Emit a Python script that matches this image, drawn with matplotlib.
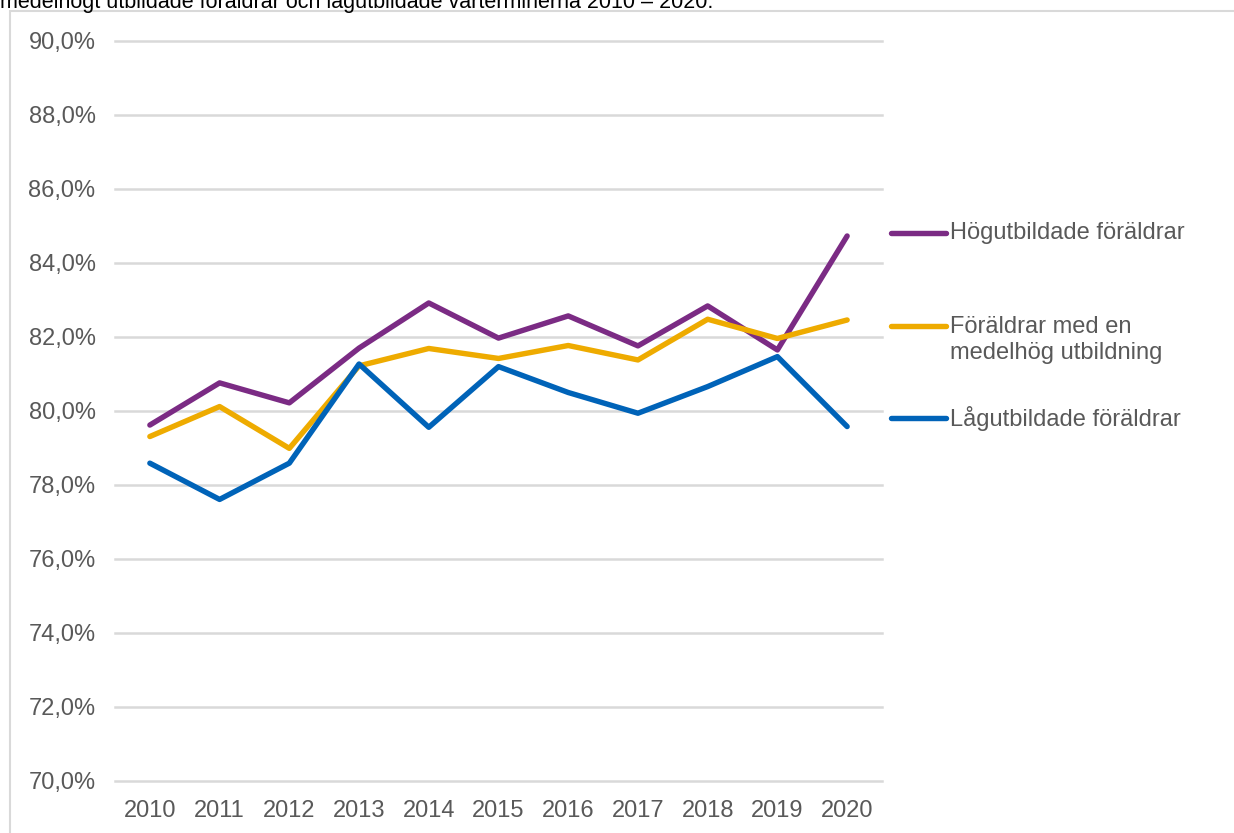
import matplotlib
matplotlib.use("Agg")
import matplotlib.pyplot as plt
from matplotlib.patches import Rectangle
from matplotlib.ticker import FuncFormatter

plt.rcParams["font.family"] = ["Liberation Sans", "DejaVu Sans"]

years = [2010, 2011, 2012, 2013, 2014, 2015, 2016, 2017, 2018, 2019, 2020]
hog = [79.62, 80.76, 80.22, 81.70, 82.92, 81.97, 82.57, 81.76, 82.84, 81.65, 84.73]
medel = [79.31, 80.12, 78.99, 81.22, 81.69, 81.42, 81.77, 81.38, 82.48, 81.96, 82.46]
lag = [78.59, 77.61, 78.59, 81.27, 79.56, 81.20, 80.50, 79.94, 80.66, 81.47, 79.58]

labels = ["Högutbildade föräldrar",
          "Föräldrar med en\nmedelhög utbildning",
          "Lågutbildade föräldrar"]
colors = ["#7b2b84", "#eeab00", "#0063b8"]
yticks = [70, 72, 74, 76, 78, 80, 82, 84, 86, 88, 90]
title = "medelhögt utbildade föräldrar och lågutbildade vårterminerna 2010 – 2020."

TEXT = "#595959"
GRID = "#d9d9d9"


def main():
    fig = plt.figure(figsize=(12.34, 8.33), dpi=100)
    W, H = 1234, 833
    ax = fig.add_axes([115 / W, 1 - 781 / H, 767 / W, 740 / H])
    plot_data(ax)
    set_properties(ax)
    add_legend(ax)

    # frame round the chart area and the cut-off caption above it
    fig.patches.append(Rectangle((10 / W, -0.1), 1.2, 1 - 11 / H + 0.1,
                                 transform=fig.transFigure, fill=False,
                                 edgecolor=GRID, linewidth=1.5))
    fig.text(0, 1 - 8 / H, title, fontsize=15.5, color="black",
             ha="left", va="baseline")
    fig.savefig("out.png", dpi=100)


def plot_data(ax):
    for vals, c in zip([hog, medel, lag], colors):
        ax.plot(years, vals, color=c, linewidth=3.9,
                solid_capstyle="round", solid_joinstyle="round", zorder=3)


def set_properties(ax):
    ax.set_xlim(2009.5, 2020.5)
    ax.set_ylim(70, 90)
    ax.set_yticks(yticks)
    ax.set_xticks(years)
    ax.yaxis.set_major_formatter(FuncFormatter(lambda v, p: f"{v:.1f}%".replace(".", ",")))
    ax.grid(axis="y", color=GRID, linewidth=1.8)
    for gl in ax.yaxis.get_gridlines():
        gl.set_clip_on(False)
    ax.set_axisbelow(True)
    for s in ax.spines.values():
        s.set_visible(False)
    ax.tick_params(length=0, labelsize=17, labelcolor=TEXT)
    ax.tick_params(axis="y", pad=14)
    ax.tick_params(axis="x", pad=14)


def add_legend(ax):
    ypos = [0.7405, 0.6149, 0.4905]
    tpos = [0.7405, 0.5960, 0.4905]
    for lab, c, y, ty in zip(labels, colors, ypos, tpos):
        ax.plot([1.012, 1.083], [y, y], transform=ax.transAxes, color=c,
                linewidth=3.9, solid_capstyle="round", clip_on=False)
        ax.text(1.0887, ty, lab, transform=ax.transAxes, fontsize=17,
                color=TEXT, ha="left", va="center", linespacing=1.2)


if __name__ == "__main__":
    main()
